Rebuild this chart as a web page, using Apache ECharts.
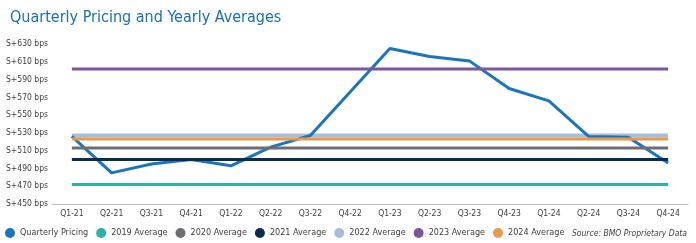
<!DOCTYPE html>
<html>
<head>
<meta charset="utf-8">
<script src="https://cdn.jsdelivr.net/npm/echarts@6/dist/echarts.min.js"></script>
<style>
  html, body { margin: 0; padding: 0; background: #fff; }
  #main { width: 696px; height: 243px; }
</style>
</head>
<body>
<div id="main"></div>
<script>
// quarters on the x axis
var quarters = ['Q1-21', 'Q2-21', 'Q3-21', 'Q4-21', 'Q1-22', 'Q2-22', 'Q3-22', 'Q4-22',
                'Q1-23', 'Q2-23', 'Q3-23', 'Q4-23', 'Q1-24', 'Q2-24', 'Q3-24', 'Q4-24']
// quarterly pricing, spread in bps
var pricing = [526, 485, 495, 500, 493, 514, 527, 576, 625, 616, 611, 580, 566, 526, 525, 496]
// yearly averages
var avgNames = ['2019 Average', '2020 Average', '2021 Average', '2022 Average', '2023 Average', '2024 Average']
var avgValues = [472, 513, 500, 527, 602, 523]
var avgColors = ['#2bb3aa', '#6d6e71', '#0b2c4f', '#a7bedb', '#7b559e', '#e8994c']
var yTicks = { min: 450, max: 630, step: 20 }

var font = '"DejaVu Sans Condensed", "DejaVu Sans", sans-serif'

var myChart = echarts.init(document.getElementById('main'))

var series = [{
    name: 'Quarterly Pricing',
    type: 'line',
    data: pricing,
    symbol: 'none',
    lineStyle: { width: 3, color: '#1b75bb' },
    itemStyle: { color: '#1b75bb' },
    z: 2
}]
for (var i = 0; i < avgNames.length; i++) {
    series.push({
        name: avgNames[i],
        type: 'line',
        // flat line from first to last quarter
        data: [[quarters[0], avgValues[i]], [quarters[quarters.length - 1], avgValues[i]]],
        symbol: 'none',
        lineStyle: { width: avgNames[i] == '2022 Average' ? 4 : 3, color: avgColors[i] },
        itemStyle: { color: avgColors[i] },
        z: avgNames[i] == '2022 Average' ? 1 : 3
    })
}

var option = {
    animation: false,
    title: {
        text: 'Quarterly Pricing and Yearly Averages',
        left: 5,
        top: 5,
        textStyle: { fontFamily: font, fontSize: 16, fontWeight: 'normal', color: '#1b6fae' }
    },
    grid: { left: 52, right: 8, top: 44, bottom: 39, outerBoundsMode: 'none' },
    legend: {
        left: 5,
        top: 228,
        padding: 0,
        icon: 'circle',
        itemWidth: 10,
        itemHeight: 10,
        itemGap: 8,
        data: ['Quarterly Pricing'].concat(avgNames),
        textStyle: { fontFamily: font, fontSize: 9, color: '#404040' }
    },
    graphic: [{
        type: 'text',
        right: 9,
        top: 229,
        style: { text: 'Source: BMO Proprietary Data', font: 'italic 8.5px ' + font, fill: '#404040' }
    }],
    xAxis: {
        type: 'category',
        data: quarters,
        boundaryGap: true,
        axisLine: { lineStyle: { color: '#bfbfbf' } },
        axisTick: { length: 4, lineStyle: { color: '#bfbfbf' } },
        axisLabel: { fontFamily: font, fontSize: 8.5, color: '#404040', margin: 5 }
    },
    yAxis: {
        type: 'value',
        min: yTicks.min,
        max: yTicks.max,
        interval: yTicks.step,
        axisLine: { show: false },
        axisTick: { show: false },
        splitLine: { show: false },
        axisLabel: {
            fontFamily: font, fontSize: 8.5, color: '#404040', margin: 4,
            padding: [0, 0, 5, 0],
            formatter: function (v) { return 'S+' + v + ' bps' }
        }
    },
    series: series
}
myChart.setOption(option)
</script>
</body>
</html>
